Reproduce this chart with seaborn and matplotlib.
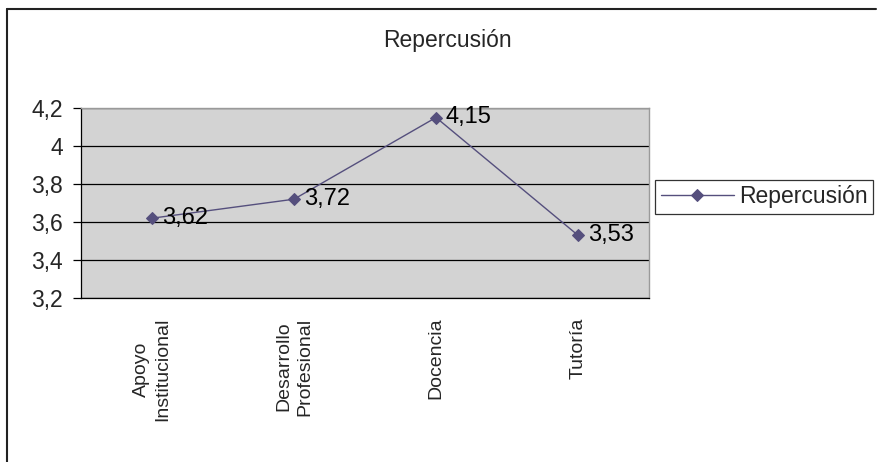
import seaborn as sns
import matplotlib.pyplot as plt
import pandas as pd
from matplotlib.lines import Line2D
from matplotlib.ticker import FuncFormatter

# Data
categorias = ["Apoyo\nInstitucional", "Desarrollo\nProfesional", "Docencia", "Tutoría"]
valores = [3.62, 3.72, 4.15, 3.53]
etiquetas = ["3,62", "3,72", "4,15", "3,53"]
y_ticks = [3.2, 3.4, 3.6, 3.8, 4.0, 4.2]

df = pd.DataFrame({"pos": range(len(categorias)), "valor": valores, "serie": "Repercusión"})

sns.set_style("white")
plt.rcParams['font.family'] = ['Liberation Sans', 'DejaVu Sans']

color = "#554f7d"

fig = plt.figure(figsize=(8.78, 4.62), dpi=100)
ax = fig.add_axes([81/878, 1 - 298/462, (649 - 81)/878, (298 - 108)/462])
ax.set_facecolor("#d3d3d3")

sns.lineplot(data=df, x="pos", y="valor", hue="serie", palette=[color],
             marker="D", markersize=6.5, markeredgecolor=color, linewidth=1,
             ax=ax)

# data labels
for i, (v, t) in enumerate(zip(valores, etiquetas)):
    ax.annotate(t, (i, v), xytext=(7, 0), textcoords="offset points",
                ha="left", va="center", fontsize=17, color="black")

ax.set_xlim(-0.5, 3.5)
ax.set_ylim(3.2, 4.2)
ax.set_yticks(y_ticks)
ax.yaxis.set_major_formatter(FuncFormatter(lambda v, p: f"{v:g}".replace(".", ",")))
ax.grid(axis="y", color="black", linewidth=0.9)
ax.set_axisbelow(True)

ax.set_xticks(range(len(categorias)))
ax.set_xticklabels(categorias, rotation=90, fontsize=14, va="top", ha="center",
                   multialignment="center", linespacing=1.3)
ax.set_xticks([-0.5, 0.5, 1.5, 2.5, 3.5], minor=True)
ax.tick_params(axis="x", which="major", length=0, pad=14)
ax.tick_params(axis="x", which="minor", length=6, width=0.9, color="black", direction="out")
ax.tick_params(axis="y", length=6, width=0.9, color="black", direction="out",
               labelsize=16.5, pad=7, left=True)
ax.set_xlabel("")
ax.set_ylabel("")

for s in ["left", "bottom"]:
    ax.spines[s].set_color("black")
    ax.spines[s].set_linewidth(0.9)
for s in ["top", "right"]:
    ax.spines[s].set_color("#9a9a9a")
    ax.spines[s].set_linewidth(1)

fig.text(447/878, 1 - 40/462, "Repercusión", ha="center", va="center", fontsize=16.5)

leg = ax.legend(loc="center left", bbox_to_anchor=(655/878, 1 - 197/462),
                bbox_transform=fig.transFigure, frameon=True, fancybox=False,
                fontsize=16.5, handlelength=3.2, borderpad=0.25, handletextpad=0.2,
                borderaxespad=0)
leg.get_frame().set_edgecolor("black")
leg.get_frame().set_linewidth(0.9)

# outer chart border
fig.add_artist(Line2D([7/878, 7/878], [0, 1 - 9/462], color="#222222", linewidth=1.5,
                      transform=fig.transFigure))
fig.add_artist(Line2D([7/878, 876/878], [1 - 9/462, 1 - 9/462], color="#222222",
                      linewidth=1.5, transform=fig.transFigure))

fig.savefig("out.png", dpi=100)
